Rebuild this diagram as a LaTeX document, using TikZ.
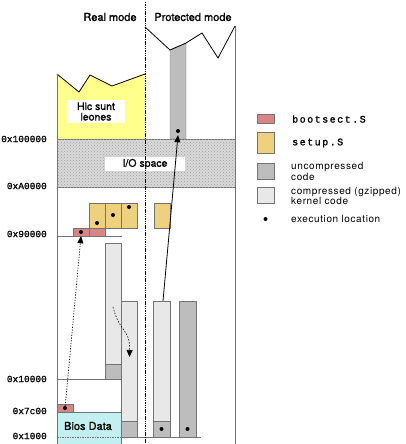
\documentclass[tikz,border=0pt]{standalone}
\usepackage{fontspec}
\setmainfont{TeX Gyre Heros}
\setmonofont{Liberation Mono}
\newfontfamily\medsans[FakeBold=1.2]{TeX Gyre Heros}
\newfontfamily\legsans[LetterSpace=6]{TeX Gyre Heros}
\newfontfamily\legmono[LetterSpace=15, FakeBold=1.5]{Liberation Mono}
\newfontfamily\hexmono[FakeBold=1]{Liberation Mono}
\usetikzlibrary{patterns, arrows.meta, positioning}

\definecolor{leones}{HTML}{FFFF8C}
\definecolor{setupc}{HTML}{EDD17E}
\definecolor{bootc}{HTML}{D98585}
\definecolor{uncomp}{HTML}{BDBDBD}
\definecolor{comp}{HTML}{E8E8E8}
\definecolor{biosc}{HTML}{C2F0F0}

\begin{document}
\begin{tikzpicture}[
    x=1pt, y=-1pt,
    frame/.style={draw=black!55, line width=0.6pt},
    edge/.style={draw=black, line width=0.8pt},
    sep/.style={draw=black!55, dash pattern=on 1.5pt off 1pt, line width=0.5pt},
    dotmark/.style={circle, fill=black, inner sep=0pt, minimum size=4pt},
    setupbox/.style={rectangle, draw=black!55, fill=setupc, minimum width=16pt, minimum height=25pt, inner sep=0pt},
    bootbox/.style={rectangle, draw=black!55, fill=bootc, minimum width=16pt, minimum height=8pt, inner sep=0pt},
    swatch/.style={rectangle, draw=black!55, minimum width=17pt, minimum height=16pt, inner sep=0pt},
    hexlabel/.style={anchor=east, inner sep=0pt, font=\hexmono\fontsize{9.5}{9.5}\selectfont},
    legend/.style={anchor=west, inner sep=0pt, align=left, font=\legsans\fontsize{10}{10.5}\selectfont},
    filelabel/.style={anchor=west, inner sep=0pt, font=\legmono\fontsize{10}{10}\selectfont},
    title/.style={inner sep=0pt, font=\medsans\fontsize{11}{11}\selectfont},
    arrow/.style={-{Triangle[width=6pt, length=7pt]}, line width=0.8pt}
]
\useasboundingbox (0,0) rectangle (406,444);

% modes
\node[title] (real) at (110,17) {Real mode};
\node[title] (prot) at (193,17) {Protected mode};

% protected mode outline
\draw[frame] (235,26) -- (235,444);
\filldraw[fill=uncomp, draw=black!55] (170,50) -- (186,43) -- (186,139) -- (170,139) -- cycle;
\draw[edge] (145,27) -- (170,50) -- (186,43) -- (202,33) -- (218,58) -- (235,26);

% real mode top
\fill[leones] (57,74) -- (79,92) -- (90,75) -- (112,86) -- (145,74) -- (145,139) -- (57,139) -- cycle;
\draw[edge] (57,74) -- (79,92) -- (90,75) -- (112,86) -- (145,74);
\draw[frame] (57,74) -- (57,444);
\node[fill=white, minimum width=58pt, minimum height=23pt, inner sep=0pt, align=center,
      font=\medsans\fontsize{10.5}{10.5}\selectfont] (hic) at (96,111.5) {Hic sunt\\leones};
\node[dotmark] (upmark) at (178,131) {};

% I/O space
\filldraw[fill=gray!30, draw=black!55] (57,139) rectangle (235,187);
\fill[pattern=crosshatch dots, pattern color=gray!75] (57,139) rectangle (235,187);
\node[fill=white, minimum width=80pt, minimum height=14pt, inner sep=0pt,
      font=\medsans\fontsize{10.5}{10.5}\selectfont] (io) at (145,164) {I/O space};

% setup.S and bootsect.S
\node[setupbox] (setupA) at (97,215.5) {};
\node[setupbox] (setupB) at (113,215.5) {};
\node[setupbox] (setupC) at (129,215.5) {};
\node[setupbox] (setupP) at (162,215.5) {};
\node[dotmark] at (97,223) {};
\node[dotmark] at (113,215) {};
\node[dotmark] at (129,207) {};
\node[bootbox] (bootA) at (81,232) {};
\node[bootbox] (bootB) at (97,232) {};
\node[dotmark] at (81,232) {};
\draw[frame] (57,236) -- (122,236);

% compressed kernel, first copy
\filldraw[fill=comp, draw=black!55] (105,243) rectangle (121,379);
\filldraw[fill=uncomp, draw=black!55] (105,364) rectangle (121,379);
\draw[sep] (105,364) -- (121,364);
\draw[frame] (57,379) -- (121,379);

% compressed kernel, low copies
\filldraw[fill=comp, draw=black!55] (121,301) rectangle (137,437);
\filldraw[fill=uncomp, draw=black!55] (121,421) rectangle (137,437);
\draw[sep] (121,421) -- (137,421);
\filldraw[fill=comp, draw=black!55] (153,301) rectangle (170,437);
\filldraw[fill=uncomp, draw=black!55] (153,421) rectangle (170,437);
\draw[sep] (153,421) -- (170,421);
\filldraw[fill=uncomp, draw=black!55] (179,301) rectangle (196,437);
\node[dotmark] (lowA) at (161.5,429) {};
\node[dotmark] (lowB) at (187.5,429) {};
\coordinate (ptop) at (163,301);

% bios data
\filldraw[fill=biosc, draw=black!55] (57,412) rectangle (121,446);
\draw[sep] (57,437) -- (121,437);
\draw[frame] (121,437) -- (201,437);
\node[font=\medsans\fontsize{11}{11}\selectfont] (bios) at (88,426) {Bios Data};
\node[bootbox] (boot7c) at (65,408) {};
\node[dotmark] (mark7c) at (65,408) {};

% mode border
\draw[dash pattern=on 1.5pt off 0.8pt, line width=0.8pt] (145,2) -- (145,444);

% addresses
\node[hexlabel] (a100000) at (47,139) {0x100000};
\node[hexlabel] (aA0000) at (47,186) {0xA0000};
\node[hexlabel] (a90000) at (47,234) {0x90000};
\node[hexlabel] (a10000) at (47,379) {0x10000};
\node[hexlabel] (a7c00) at (47,411) {0x7c00};
\node[hexlabel] (a1000) at (47,436) {0x1000};

% moves
\coordinate (unzipA) at (113,307);
\coordinate (unzipB) at (129.5,357);
\draw[arrow, dash pattern=on 1.5pt off 1.5pt, line width=0.6pt] (unzipA) .. controls (120,334) and (130,328) .. (unzipB);
\draw[arrow, dash pattern=on 1.2pt off 1.5pt, line width=0.6pt] (mark7c) -- (bootA.south);
\draw[arrow] (ptop) -- ([yshift=-2pt]upmark.south);

% legend
\node[swatch, fill=bootc, minimum height=9pt] (kbootsect) at (265.5,118.5) {};
\node[swatch, fill=setupc, minimum height=21pt] (ksetup) at (265.5,142.5) {};
\node[swatch, fill=uncomp] (kuncomp) at (265.5,171) {};
\node[swatch, fill=comp] (kcomp) at (265.5,195) {};
\node[dotmark] (kmark) at (265.5,219) {};
\node[filelabel] (tbootsect) at (292,119) {bootsect.S};
\node[filelabel] (tsetup) at (292,143) {setup.S};
\node[legend] (tuncomp) at (291,171.5) {uncompressed\\code};
\node[legend] (tcomp) at (291,196) {compressed (gzipped)\\kernel code};
\node[legend] (tmark) at (291,219) {execution location};

\end{tikzpicture}
\end{document}
